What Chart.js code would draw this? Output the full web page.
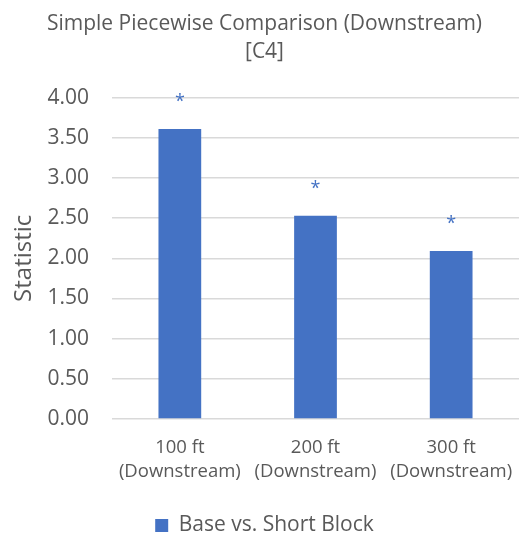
<!DOCTYPE html>
<html>
<head>
<meta charset="utf-8">
<script src="https://cdn.jsdelivr.net/npm/chart.js@4/dist/chart.umd.min.js"></script>
<style>
  html, body { margin: 0; padding: 0; background: #ffffff; }
  #wrap { width: 519px; height: 533px; }
</style>
</head>
<body>
<div id="wrap"><canvas id="c" width="519" height="533"></canvas></div>
<script>
const categories = [['100 ft', '(Downstream)'], ['200 ft', '(Downstream)'], ['300 ft', '(Downstream)']];
const seriesName = 'Base vs. Short Block';
const values = [3.61, 2.53, 2.09];
const markers = ['*', '*', '*'];
const titleLines = ['Simple Piecewise Comparison (Downstream)', '[C4]'];
const yTitle = 'Statistic';

const FONT = "'Open Sans', 'Liberation Sans', sans-serif";
const TEXT = '#595959';
const BAR = '#4472C4';

// writes the significance marker above each bar
const markerPlugin = {
  id: 'markers',
  afterDatasetsDraw(chart) {
    const meta = chart.getDatasetMeta(0);
    const ctx = chart.ctx;
    ctx.save();
    ctx.fillStyle = BAR;
    ctx.font = "18px " + FONT;
    ctx.textAlign = 'center';
    ctx.textBaseline = 'middle';
    meta.data.forEach((bar, i) => {
      ctx.fillText(markers[i], bar.x, bar.y - 27);
    });
    ctx.restore();
  }
};

new Chart(document.getElementById('c'), {
  type: 'bar',
  data: {
    labels: categories,
    datasets: [{
      label: seriesName,
      data: values,
      backgroundColor: BAR,
      borderWidth: 0,
      barPercentage: 0.63,
      categoryPercentage: 0.5
    }]
  },
  options: {
    responsive: false,
    animation: false,
    layout: { padding: { left: 10, right: 0, top: 0, bottom: -13 } },
    plugins: {
      title: {
        display: true,
        text: titleLines,
        color: TEXT,
        font: { family: FONT, size: 21, weight: 'normal', lineHeight: 28 / 21 },
        padding: { top: 10, bottom: 31.7 }
      },
      legend: {
        position: 'bottom',
        labels: {
          color: TEXT,
          font: { family: FONT, size: 21 },
          boxWidth: 13,
          boxHeight: 13,
          padding: 31
        }
      },
      tooltip: { enabled: false }
    },
    scales: {
      x: {
        // category labels sit below the plot; keep the plot running to the right edge
        afterFit(scale) {
          scale.height = 17 + 2 * 18.5 * 1.3;
          scale.paddingLeft = 0;
          scale.paddingRight = 0;
        },
        grid: { display: false, drawTicks: false },
        border: { display: false },
        ticks: {
          color: TEXT,
          font: { family: FONT, size: 18.5, lineHeight: 1.3 },
          maxRotation: 0,
          padding: 17
        }
      },
      y: {
        min: 0,
        max: 4,
        afterFit(scale) { scale.width = 102; },
        ticks: {
          stepSize: 0.5,
          color: TEXT,
          font: { family: FONT, size: 21 },
          padding: 23,
          callback: v => v.toFixed(2)
        },
        grid: { color: '#d9d9d9', lineWidth: 1.5, drawTicks: false },
        border: { display: false },
        title: {
          display: true,
          text: yTitle,
          color: TEXT,
          font: { family: FONT, size: 24, lineHeight: 1.15 },
          padding: 0
        }
      }
    }
  },
  plugins: [markerPlugin]
});
</script>
</body>
</html>
